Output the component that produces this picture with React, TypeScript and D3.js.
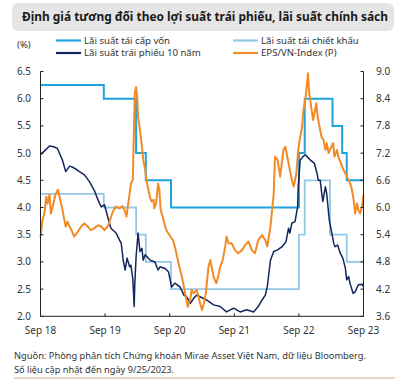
import React from "react";
import * as d3 from "d3";

// Dates as decimal years (Sep 25 2018 = 2018.73)
const refiRate: [number, number][] = [
  [2018.73, 6.25], [2019.71, 6.0], [2020.21, 5.0], [2020.36, 4.5], [2020.75, 4.0],
  [2022.73, 5.0], [2022.82, 6.0], [2023.25, 5.5], [2023.4, 5.0], [2023.47, 4.5], [2023.73, 4.5],
];

const discountRate: [number, number][] = [
  [2018.73, 4.25], [2019.71, 4.0], [2020.21, 3.5], [2020.36, 3.0], [2020.75, 2.5],
  [2022.73, 3.5], [2022.82, 4.5], [2023.21, 3.5], [2023.47, 3.0], [2023.73, 3.0],
];

const bondYield10Y: [number, number][] = [
  [2018.73, 4.97], [2018.8, 5.05], [2018.87, 5.13], [2018.92, 5.12], [2018.99, 5.09],
  [2019.03, 4.98], [2019.07, 4.87], [2019.12, 4.66], [2019.18, 4.76], [2019.23, 4.74],
  [2019.31, 4.68], [2019.41, 4.6], [2019.49, 4.47], [2019.56, 4.32], [2019.62, 4.14],
  [2019.67, 4.01], [2019.72, 4.05], [2019.77, 3.83], [2019.82, 3.62], [2019.9, 3.53],
  [2019.98, 3.34], [2020.01, 3.03], [2020.04, 2.85], [2020.07, 3.07], [2020.11, 2.91],
  [2020.13, 2.94], [2020.16, 2.67], [2020.18, 2.18], [2020.19, 2.6], [2020.21, 3.1],
  [2020.24, 3.53], [2020.27, 3.19], [2020.3, 3.25], [2020.32, 3.03], [2020.35, 3.13],
  [2020.43, 3.03], [2020.5, 3.0], [2020.55, 2.85], [2020.58, 2.91], [2020.66, 2.88],
  [2020.71, 2.82], [2020.76, 2.54], [2020.81, 2.61], [2020.89, 2.54], [2020.95, 2.39],
  [2020.99, 2.36], [2021.05, 2.24], [2021.1, 2.33], [2021.15, 2.39], [2021.2, 2.36],
  [2021.3, 2.3], [2021.41, 2.21], [2021.51, 2.18], [2021.61, 2.08], [2021.72, 2.15],
  [2021.82, 2.08], [2021.92, 2.12], [2022.03, 2.08], [2022.1, 2.18], [2022.16, 2.3],
  [2022.21, 2.39], [2022.24, 2.54], [2022.29, 3.03], [2022.34, 3.19], [2022.4, 3.22],
  [2022.47, 3.28], [2022.53, 3.37], [2022.57, 3.62], [2022.59, 3.53], [2022.62, 3.71],
  [2022.67, 3.74], [2022.71, 4.01], [2022.72, 4.38], [2022.75, 4.87], [2022.79, 4.93],
  [2022.83, 4.97], [2022.9, 4.88], [2022.97, 4.81], [2023.01, 4.63], [2023.03, 4.5],
  [2023.06, 4.5], [2023.09, 4.2], [2023.1, 4.11], [2023.14, 4.38], [2023.16, 4.26],
  [2023.2, 3.77], [2023.24, 3.53], [2023.27, 3.34], [2023.29, 3.28], [2023.33, 3.31],
  [2023.37, 3.16], [2023.41, 3.07], [2023.45, 2.88], [2023.47, 2.67], [2023.5, 2.73],
  [2023.52, 2.61], [2023.57, 2.42], [2023.6, 2.45], [2023.65, 2.58], [2023.71, 2.59],
  [2023.73, 2.54],
];

const epsVnIndex: [number, number][] = [
  [2018.73, 5.36], [2018.76, 5.72], [2018.79, 5.87], [2018.82, 6.24], [2018.84, 6.09],
  [2018.87, 6.28], [2018.89, 5.87], [2018.92, 6.02], [2018.96, 6.28], [2019.0, 6.39],
  [2019.03, 6.2], [2019.06, 6.02], [2019.1, 5.72], [2019.12, 5.58], [2019.15, 5.69],
  [2019.18, 5.58], [2019.22, 5.47], [2019.25, 5.36], [2019.31, 5.47], [2019.36, 5.58],
  [2019.41, 5.65], [2019.46, 5.58], [2019.51, 5.5], [2019.56, 5.54], [2019.62, 5.61],
  [2019.67, 5.58], [2019.72, 5.5], [2019.77, 5.58], [2019.8, 5.69], [2019.85, 5.91],
  [2019.9, 6.02], [2019.95, 5.98], [2020.0, 6.03], [2020.04, 5.91], [2020.06, 5.8],
  [2020.11, 6.31], [2020.13, 6.53], [2020.16, 6.61], [2020.17, 7.34], [2020.19, 8.52],
  [2020.21, 8.66], [2020.23, 8.37], [2020.24, 8.0], [2020.27, 7.71], [2020.3, 7.34],
  [2020.32, 7.05], [2020.35, 6.83], [2020.37, 6.61], [2020.4, 6.39], [2020.43, 6.2],
  [2020.45, 6.13], [2020.48, 6.17], [2020.49, 5.98], [2020.52, 6.09], [2020.55, 6.53],
  [2020.57, 6.39], [2020.59, 5.95], [2020.62, 5.8], [2020.66, 5.58], [2020.69, 5.47],
  [2020.74, 5.36], [2020.78, 5.28], [2020.81, 5.14], [2020.84, 4.95], [2020.88, 4.69],
  [2020.92, 4.47], [2020.95, 4.25], [2020.98, 4.03], [2021.01, 3.81], [2021.05, 3.99],
  [2021.07, 4.18], [2021.1, 4.11], [2021.15, 4.18], [2021.17, 4.07], [2021.2, 3.89],
  [2021.23, 3.74], [2021.26, 3.89], [2021.29, 4.11], [2021.33, 4.69], [2021.36, 4.84],
  [2021.38, 4.69], [2021.41, 4.47], [2021.45, 4.33], [2021.48, 4.47], [2021.51, 4.69],
  [2021.55, 4.84], [2021.59, 5.14], [2021.61, 5.36], [2021.64, 5.21], [2021.69, 5.21],
  [2021.74, 5.06], [2021.79, 4.99], [2021.85, 5.06], [2021.9, 5.17], [2021.95, 5.25],
  [2022.0, 5.06], [2022.05, 4.99], [2022.1, 5.28], [2022.16, 5.39], [2022.21, 5.28],
  [2022.24, 5.14], [2022.29, 5.58], [2022.31, 5.87], [2022.34, 6.3], [2022.36, 7.12],
  [2022.4, 7.05], [2022.44, 6.68], [2022.49, 7.27], [2022.52, 7.34], [2022.55, 7.12],
  [2022.59, 6.83], [2022.62, 6.61], [2022.65, 6.46], [2022.69, 6.75], [2022.72, 7.27],
  [2022.75, 7.56], [2022.78, 7.78], [2022.8, 8.15], [2022.83, 8.37], [2022.85, 8.66],
  [2022.87, 8.96], [2022.89, 8.52], [2022.92, 8.22], [2022.95, 7.93], [2022.97, 8.08],
  [2023.0, 8.3], [2023.02, 8.0], [2023.05, 7.78], [2023.08, 7.56], [2023.11, 7.49],
  [2023.14, 7.27], [2023.16, 7.42], [2023.19, 7.2], [2023.21, 7.27], [2023.26, 7.42],
  [2023.28, 7.12], [2023.32, 7.27], [2023.34, 7.12], [2023.38, 6.98], [2023.42, 6.83],
  [2023.45, 6.75], [2023.5, 6.61], [2023.54, 6.46], [2023.57, 6.24], [2023.59, 6.02],
  [2023.6, 5.87], [2023.63, 6.09], [2023.65, 5.94], [2023.68, 5.87], [2023.71, 6.05],
  [2023.73, 6.28],
];

const xTicks = [2018.73, 2019.73, 2020.73, 2021.73, 2022.73, 2023.73];
const xTickLabels = ["Sep 18", "Sep 19", "Sep 20", "Sep 21", "Sep 22", "Sep 23"];
const leftTicks = [2.0, 2.5, 3.0, 3.5, 4.0, 4.5, 5.0, 5.5, 6.0, 6.5];
const rightTicks = [3.6, 4.2, 4.8, 5.4, 6.0, 6.6, 7.2, 7.8, 8.4, 9.0];

const title = "Định giá tương đối theo lợi suất trái phiếu, lãi suất chính sách";
const legendItems = [
  { label: "Lãi suất tái cấp vốn", color: "#1fa3dd", col: 0, row: 0 },
  { label: "Lãi suất tái chiết khấu", color: "#92c8e6", col: 1, row: 0 },
  { label: "Lãi suất trái phiếu 10 năm", color: "#13265e", col: 0, row: 1 },
  { label: "EPS/VN-Index (P)", color: "#f28a26", col: 1, row: 1 },
];
const footLines = [
  "Nguồn: Phòng phân tích Chứng khoán Mirae Asset Việt Nam, dữ liệu Bloomberg.",
  "Số liệu cập nhật đến ngày 9/25/2023.",
];
const footWidths = [352, 160];

const FONT = "'Noto Sans', 'Open Sans', sans-serif";

export default function App() {
  const W = 397, H = 379;
  const left = 40.5, right = 363.5, top = 71.5, bottom = 316.3;
  const x = d3.scaleLinear().domain([2018.73, 2023.73]).range([left, right]);
  const yL = d3.scaleLinear().domain([2, 6.5]).range([bottom, top]);
  const yR = d3.scaleLinear().domain([3.6, 9.0]).range([bottom, top]);

  const stepL = d3.line<[number, number]>().x((d) => x(d[0])).y((d) => yL(d[1])).curve(d3.curveStepAfter);
  const lineL = d3.line<[number, number]>().x((d) => x(d[0])).y((d) => yL(d[1]));
  const lineR = d3.line<[number, number]>().x((d) => x(d[0])).y((d) => yR(d[1]));

  const tickColor = "#222";
  const labelColor = "#333";

  return (
    <div style={{ position: "absolute", left: 0, top: 0 }}>
      <svg width={W} height={H} style={{ display: "block", background: "#fff" }}>
        {/* Title */}
        <rect x={12} y={3} width={382} height={28} rx={6} fill="#e5e5e5" />
        <text x={205} y={21} textAnchor="middle" fontFamily={FONT} fontWeight="bold" fontSize={12.4} fill="#1a1a1a"
          textLength={366} lengthAdjust="spacingAndGlyphs">{title}</text>

        {/* Legend */}
        <text x={17} y={47.5} fontFamily={FONT} fontSize={9.6} fill={labelColor}>(%)</text>
        {legendItems.map((it) => {
          const lx = it.col === 0 ? 56 : 233;
          const ly = it.row === 0 ? 40.5 : 53;
          return (
            <g key={it.label}>
              <line x1={lx} x2={lx + 25} y1={ly} y2={ly} stroke={it.color} strokeWidth={2.2} />
              <text x={lx + 28} y={ly + 3.3} fontFamily={FONT} fontSize={9.6} fill={labelColor}>{it.label}</text>
            </g>
          );
        })}

        {/* Series */}
        <path d={stepL(discountRate) || ""} fill="none" stroke="#92c8e6" strokeWidth={1.8} />
        <path d={stepL(refiRate) || ""} fill="none" stroke="#1fa3dd" strokeWidth={2} />
        <path d={lineL(bondYield10Y) || ""} fill="none" stroke="#13265e" strokeWidth={1.5} strokeLinejoin="round" />
        <path d={lineR(epsVnIndex) || ""} fill="none" stroke="#f28a26" strokeWidth={2} strokeLinejoin="round" />

        {/* Axes */}
        <line x1={left} x2={left} y1={top} y2={bottom} stroke={tickColor} strokeWidth={1} />
        <line x1={right} x2={right} y1={top} y2={bottom} stroke={tickColor} strokeWidth={1} />
        <line x1={left} x2={right} y1={bottom} y2={bottom} stroke={tickColor} strokeWidth={1} />
        {leftTicks.map((t) => (
          <g key={"l" + t}>
            <line x1={left} x2={left + 3} y1={yL(t)} y2={yL(t)} stroke={tickColor} />
            <text x={31} y={yL(t) + 3.5} textAnchor="end" fontFamily={FONT} fontSize={10} fill={labelColor}>{t.toFixed(1)}</text>
          </g>
        ))}
        {rightTicks.map((t) => (
          <g key={"r" + t}>
            <line x1={right - 3} x2={right} y1={yR(t)} y2={yR(t)} stroke={tickColor} />
            <text x={376} y={yR(t) + 3.5} fontFamily={FONT} fontSize={10} fill={labelColor}>{t.toFixed(1)}</text>
          </g>
        ))}
        {xTicks.map((t, i) => (
          <g key={"x" + t}>
            <line x1={x(t)} x2={x(t)} y1={bottom} y2={bottom - 3} stroke={tickColor} />
            <text x={x(t)} y={334} textAnchor="middle" fontFamily={FONT} fontSize={10} fill={labelColor}>{xTickLabels[i]}</text>
          </g>
        ))}

        {/* Footnote */}
        {footLines.map((s, i) => (
          <text key={i} x={14} y={358.5 + i * 14.5} fontFamily={FONT} fontSize={9.2} fill={labelColor}
            textLength={footWidths[i]} lengthAdjust="spacingAndGlyphs">{s}</text>
        ))}
        <line x1={14} x2={395} y1={378} y2={378} stroke="#d7a77c" strokeWidth={1.2} />
      </svg>
    </div>
  );
}
